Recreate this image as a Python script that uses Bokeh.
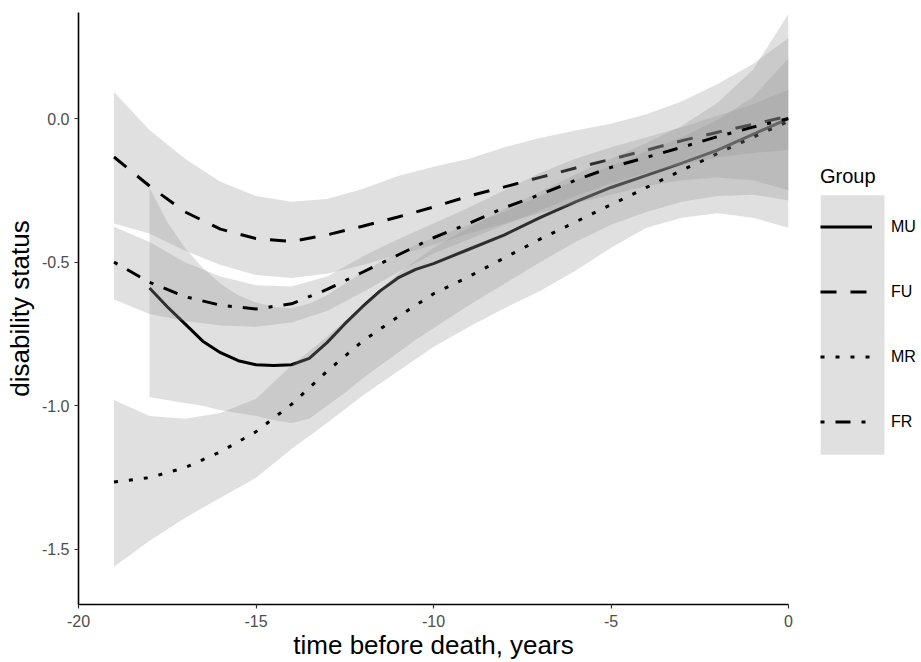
from bokeh.plotting import figure
from bokeh.layouts import row
from bokeh.models import Legend, LegendItem, FixedTicker, Range1d
from bokeh.embed import file_html
from bokeh.resources import INLINE

# ---------------- data ----------------
groups = ["MU", "FU", "MR", "FR"]

x_year = [-19, -18, -17, -16, -15, -14, -13, -12, -11, -10,
          -9, -8, -7, -6, -5, -4, -3, -2, -1, 0]

x_mu = [-18, -17.5, -17, -16.5, -16, -15.5, -15, -14.5, -14, -13.5,
        -13, -12.5, -12, -11.5, -11, -10.5, -10, -9, -8, -7,
        -6, -5, -4, -3, -2, -1, 0]

mu_fit = [-0.59, -0.655, -0.715, -0.775, -0.815, -0.843, -0.857, -0.86, -0.857, -0.835,
          -0.78, -0.715, -0.655, -0.60, -0.555, -0.525, -0.505, -0.455, -0.405, -0.345,
          -0.29, -0.24, -0.198, -0.155, -0.11, -0.055, 0.0]
mu_hi = [-0.24, -0.36, -0.45, -0.52, -0.575, -0.615, -0.64, -0.655, -0.66, -0.645,
         -0.615, -0.575, -0.535, -0.50, -0.47, -0.44, -0.415, -0.37, -0.325, -0.27,
         -0.215, -0.165, -0.115, -0.065, -0.005, 0.075, 0.21]
mu_lo = [-0.97, -0.98, -0.99, -1.00, -1.015, -1.025, -1.035, -1.05, -1.06, -1.045,
         -1.00, -0.955, -0.905, -0.86, -0.815, -0.77, -0.73, -0.65, -0.575, -0.50,
         -0.43, -0.37, -0.325, -0.29, -0.27, -0.265, -0.285]

fu_fit = [-0.134, -0.235, -0.325, -0.385, -0.418, -0.428, -0.405, -0.375, -0.343, -0.308,
          -0.27, -0.238, -0.205, -0.172, -0.142, -0.11, -0.077, -0.048, -0.02, 0.008]
fu_hi = [0.092, -0.04, -0.14, -0.22, -0.27, -0.29, -0.28, -0.245, -0.20, -0.168,
         -0.14, -0.10, -0.068, -0.042, -0.018, 0.015, 0.06, 0.12, 0.19, 0.28]
fu_lo = [-0.365, -0.40, -0.46, -0.51, -0.545, -0.555, -0.54, -0.51, -0.475, -0.44,
         -0.40, -0.365, -0.33, -0.295, -0.265, -0.235, -0.215, -0.205, -0.215, -0.25]

mr_fit = [-1.265, -1.25, -1.215, -1.16, -1.09, -0.995, -0.88, -0.775, -0.69, -0.61,
          -0.55, -0.485, -0.42, -0.36, -0.30, -0.24, -0.18, -0.122, -0.065, -0.01]
mr_hi = [-0.98, -1.035, -1.045, -1.025, -0.975, -0.86, -0.76, -0.65, -0.54, -0.45,
         -0.38, -0.315, -0.255, -0.195, -0.14, -0.085, -0.025, 0.055, 0.17, 0.365]
mr_lo = [-1.56, -1.47, -1.39, -1.32, -1.25, -1.15, -1.06, -0.965, -0.88, -0.795,
         -0.725, -0.66, -0.60, -0.53, -0.45, -0.38, -0.345, -0.33, -0.345, -0.38]

fr_fit = [-0.50, -0.57, -0.62, -0.65, -0.663, -0.645, -0.595, -0.535, -0.475, -0.415,
          -0.365, -0.31, -0.265, -0.215, -0.17, -0.135, -0.10, -0.063, -0.03, 0.0]
fr_hi = [-0.377, -0.43, -0.50, -0.55, -0.58, -0.585, -0.55, -0.48, -0.42, -0.365,
         -0.31, -0.25, -0.19, -0.14, -0.10, -0.065, -0.03, 0.01, 0.05, 0.10]
fr_lo = [-0.63, -0.68, -0.705, -0.72, -0.725, -0.71, -0.67, -0.605, -0.535, -0.47,
         -0.42, -0.37, -0.32, -0.27, -0.225, -0.19, -0.16, -0.135, -0.12, -0.11]

x_ticks = [-20, -15, -10, -5, 0]
x_tick_labels = ["-20", "-15", "-10", "-5", "0"]
y_ticks = [0.0, -0.5, -1.0, -1.5]
y_tick_labels = ["0.0", "-0.5", "-1.0", "-1.5"]

series = {
    "MU": (x_mu, mu_fit, mu_lo, mu_hi),
    "FU": (x_year, fu_fit, fu_lo, fu_hi),
    "MR": (x_year, mr_fit, mr_lo, mr_hi),
    "FR": (x_year, fr_fit, fr_lo, fr_hi),
}
dashes = {"MU": "solid", "FU": "16 14", "MR": "4 11", "FR": "4 11 15 11"}

FONT = "Liberation Sans"
H = 662
MAIN_W, LEG_W = 794, 127
LEFT, RIGHT, TOP, BOTTOM = 78, 6, 12, 57
FRAME_H = H - TOP - BOTTOM
BAND_COLOR, BAND_ALPHA = "#999999", 0.3

p = figure(width=MAIN_W, height=H, output_backend="svg", toolbar_location=None,
           x_range=Range1d(-20, 0), y_range=Range1d(-1.6915, 0.369),
           min_border_left=LEFT, min_border_right=RIGHT, min_border_top=TOP,
           min_border_bottom=BOTTOM,
           x_axis_label="time before death, years", y_axis_label="disability status")
p.grid.visible = False
p.outline_line_color = None

for g in groups:
    xs, fit, lo, hi = series[g]
    p.varea(x=xs, y1=lo, y2=hi, fill_color=BAND_COLOR, fill_alpha=BAND_ALPHA)
    p.line(x=xs, y=fit, line_color="black", line_width=3, line_dash=dashes[g])

for ax, ticks, labels in ((p.xaxis[0], x_ticks, x_tick_labels),
                          (p.yaxis[0], y_ticks, y_tick_labels)):
    ax.ticker = FixedTicker(ticks=ticks)
    ax.major_label_overrides = {t: l for t, l in zip(ticks, labels)}
    ax.axis_line_color = "black"
    ax.axis_line_width = 1.6
    ax.major_tick_line_color = "#333333"
    ax.major_tick_line_width = 1.2
    ax.major_tick_out = 4
    ax.major_tick_in = 0
    ax.minor_tick_line_color = None
    ax.major_label_text_font = FONT
    ax.major_label_text_font_size = "16px"
    ax.major_label_text_color = "#4d4d4d"
    ax.major_label_text_line_height = 1.0
    ax.axis_label_text_font = FONT
    ax.axis_label_text_font_size = "26px"
    ax.axis_label_text_font_style = "normal"
    ax.axis_label_text_color = "black"
    ax.axis_label_text_line_height = 1.0
p.xaxis.major_label_standoff = 6
p.xaxis.axis_label_standoff = 0
p.yaxis.major_label_standoff = 5
p.yaxis.axis_label_standoff = 4

# ---------------- legend panel ----------------
KEY_W, KEY_H, KEY_PAD = 52, 65, 6
L_LEFT = 26
LEG_BOTTOM = 150          # legend bottom, measured up from the frame bottom
FW = LEG_W - L_LEFT
K0 = 1000                 # legend panel's own coordinate origin (away from data)

leg = figure(width=LEG_W, height=H, output_backend="svg", toolbar_location=None,
             x_range=Range1d(K0, K0 + FW), y_range=Range1d(K0, K0 + FRAME_H),
             x_axis_location=None, y_axis_location=None,
             min_border_left=L_LEFT, min_border_top=TOP,
             min_border_right=0, min_border_bottom=BOTTOM)
leg.grid.visible = False
leg.outline_line_color = None

# grey key background (fill of the confidence band, as in the legend keys)
leg.quad(left=K0, right=K0 + KEY_W + 2 * KEY_PAD,
         bottom=K0 + LEG_BOTTOM,
         top=K0 + LEG_BOTTOM + 4 * KEY_H,
         fill_color=BAND_COLOR, fill_alpha=BAND_ALPHA, line_color=None)

items = []
for g in groups:
    xs, fit, lo, hi = series[g]
    kl = leg.line(x=xs, y=fit, line_color="black", line_width=3, line_dash=dashes[g])
    items.append(LegendItem(label=g, renderers=[kl]))

legend = Legend(items=items, location=(0, LEG_BOTTOM), title="Group",
                glyph_width=KEY_W, glyph_height=KEY_H, spacing=0,
                padding=KEY_PAD, margin=0,
                label_standoff=19, label_text_font=FONT, label_text_font_size="16px",
                label_text_color="black", title_text_font=FONT,
                title_text_font_size="20px", title_text_font_style="normal",
                title_text_color="black", title_standoff=6,
                border_line_color=None, background_fill_alpha=0)
leg.add_layout(legend)

open("out.html", "w").write(file_html(row(p, leg), INLINE))
